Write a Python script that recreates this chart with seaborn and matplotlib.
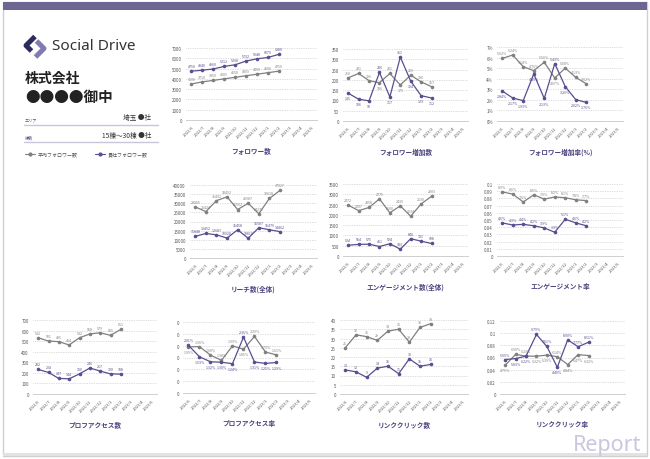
import numpy as np
import pandas as pd
import seaborn as sns
import matplotlib.pyplot as plt
from matplotlib.patches import Rectangle

months = ['2022/6', '2022/7', '2022/8', '2022/9', '2022/10', '2022/11',
          '2022/12', '2023/1', '2023/2', '2023/3', '2023/4', '2023/5']

follower_avg = [3500, 3710, 3850, 4003, 4150, 4303, 4450, 4600, 4750]
follower_own = [4750, 4840, 4960, 5212, 5368, 5732, 5948, 6079, 6380]
inc_avg = [210, 231, 196, 186, 231, 175, 223, 190, 167]
inc_own = [135, 106, 98, 236, 117, 311, 194, 123, 112]
rate_avg = [0.0592, 0.0624, 0.0514, 0.0476, 0.0556, 0.0407, 0.0500, 0.0413, 0.0352]
rate_own = [0.0284, 0.0217, 0.0193, 0.0445, 0.0213, 0.0543, 0.0326, 0.0202, 0.0176]
reach_avg = [28005, 25424, 31431, 33492, 26562, 29987, 24277, 32618, 37027]
reach_own = [11848, 13452, 12687, 10920, 15458, 10810, 16587, 15479, 14462]
eng_avg = [2472, 2207, 2358, 2775, 2100, 2439, 1934, 2530, 2903]
eng_own = [524, 564, 575, 461, 594, 333, 840, 721, 608]
engrate_avg = [0.089, 0.086, 0.075, 0.085, 0.079, 0.082, 0.081, 0.078, 0.077]
engrate_own = [0.046, 0.043, 0.044, 0.042, 0.039, 0.033, 0.051, 0.046, 0.042]
prof_avg = [532, 501, 495, 464, 532, 568, 579, 555, 611]
prof_own = [232, 204, 147, 144, 190, 246, 217, 190, 188]
profrate_avg = [0.0195, 0.0196, 0.0160, 0.0138, 0.0199, 0.0185, 0.0239, 0.0173, 0.0161]
profrate_own = [0.0201, 0.0153, 0.0132, 0.0130, 0.0124, 0.0236, 0.0131, 0.0125, 0.0129]
click_avg = [25, 32, 31, 29, 34, 35, 28, 36, 38]
click_own = [13, 12, 9, 14, 15, 11, 19, 15, 16]
clickrate_avg = [0.0475, 0.0650, 0.0623, 0.0622, 0.0639, 0.0614, 0.0484, 0.0647, 0.0632]
clickrate_own = [0.0565, 0.0583, 0.0622, 0.0979, 0.0781, 0.0440, 0.0890, 0.0777, 0.0851]

GRAY = '#808080'
PURPLE = '#574f8f'
TITLE = '#4b437e'

sns.set_theme(style='white')
plt.rcParams['font.family'] = ['Noto Sans CJK JP', 'DejaVu Sans']

W, H = 650, 460
fig = plt.figure(figsize=(6.5, 4.6), dpi=100)

# background layer in pixel coordinates
bg = fig.add_axes([0, 0, 1, 1])
bg.set_xlim(0, W)
bg.set_ylim(H, 0)
bg.axis('off')
bg.add_patch(Rectangle((3, 3), 644, 454, fill=False, ec='#cfcfcf', lw=1))
bg.add_patch(Rectangle((3, 454), 644, 3, color='#e2e2e2', lw=0))
bg.add_patch(Rectangle((3, 3), 644, 8, color='#6d6692', lw=0))
# logo
bg.plot([35, 26, 31.5], [37.5, 46.5, 52], color='#2d2b5e', lw=3.6, solid_capstyle='butt')
bg.plot([36.5, 44, 35.5], [42, 49.5, 58], color='#817bb3', lw=3.6, solid_capstyle='butt')
bg.text(52, 47, 'Social Drive', fontsize=11, color='#333333', va='center',
        family=['Noto Sans', 'DejaVu Sans'])
bg.text(25, 79, '株式会社', fontsize=10, weight='bold', va='center', color='#222222')
bg.text(25, 97, '●●●●御中', fontsize=10.5, weight='bold', va='center', color='#222222')
bg.text(25, 120, 'エリア', fontsize=3, va='center', color='#555588')
bg.text(151, 118, '埼玉 ●社', fontsize=4.8, va='center', ha='right', color='#333333')
bg.plot([24, 158], [126, 126], color='#c8c6da', lw=1)
bg.text(25, 138, '棟数', fontsize=3, va='center', color='#555588')
bg.text(151, 136, '15棟～30棟 ●社', fontsize=4.8, va='center', ha='right', color='#333333')
bg.plot([24, 158], [143, 143], color='#c8c6da', lw=1)
for x0, col, lab in [(25, GRAY, '平均フォロワー数'), (95, PURPLE, '貴社フォロワー数')]:
    bg.plot([x0, x0 + 10], [155, 155], color=col, lw=0.8)
    bg.plot([x0 + 5], [155], 'o', color=col, ms=2)
    bg.text(x0 + 13, 155, lab, fontsize=3.6, va='center', color='#555555')
bg.text(641, 451, 'Report', fontsize=15.5, weight='bold', ha='right', va='baseline',
        color='#c9c7df', family=['Noto Sans', 'DejaVu Sans'])

fmt_int = lambda v: f'{v:.0f}'
fmt_p2 = lambda v: f'{v * 100:.2f}%'
fmt_p1 = lambda v: f'{v * 100:.1f}%'

charts = [
    ('フォロワー数', follower_avg, follower_own, np.arange(0, 7001, 1000), fmt_int, fmt_int, (186, 49, 317, 121), False),
    ('フォロワー増加数', inc_avg, inc_own, np.arange(0, 351, 50), fmt_int, fmt_int, (343, 50, 468, 122), True),
    ('フォロワー増加率(%)', rate_avg, rate_own, np.arange(0, 0.0701, 0.01), lambda v: f'{v * 100:.0f}%', fmt_p2, (497, 48, 623, 122), True),
    ('リーチ数(全体)', reach_avg, reach_own, np.arange(0, 40001, 5000), fmt_int, fmt_int, (190, 186, 317, 259), False),
    ('エンゲージメント数(全体)', eng_avg, eng_own, np.arange(0, 3501, 500), fmt_int, fmt_int, (343, 185, 468, 257), False),
    ('エンゲージメント率', engrate_avg, engrate_own, np.arange(0, 0.1001, 0.01), lambda v: f'{v:.2f}'.rstrip('0').rstrip('.'), fmt_p1, (497, 185, 623, 257), False),
    ('プロフアクセス数', prof_avg, prof_own, np.arange(0, 701, 100), fmt_int, fmt_int, (33, 321, 157, 395), False),
    ('プロフアクセス率', profrate_avg, profrate_own, np.arange(0, 0.0301, 0.005), lambda v: '0', fmt_p2, (183, 323, 315, 394), True),
    ('リンククリック数', click_avg, click_own, np.arange(0, 41, 5), fmt_int, fmt_int, (340, 321, 468, 395), False),
    ('リンククリック率', clickrate_avg, clickrate_own, np.arange(0, 0.1201, 0.02), lambda v: f'{v:.2f}'.rstrip('0').rstrip('.'), fmt_p2, (500, 322, 625, 395), True),
]

for title, avg, own, yt, tfmt, lfmt, (l, t, r, b), split in charts:
    ax = fig.add_axes([l / W, 1 - b / H, (r - l) / W, (b - t) / H])
    ax.set_facecolor('none')
    n = len(avg)
    df = pd.DataFrame({
        'pos': list(range(n)) * 2,
        'value': avg + own,
        'series': ['平均'] * n + ['貴社'] * n,
    })
    sns.lineplot(data=df, x='pos', y='value', hue='series', palette={'平均': GRAY, '貴社': PURPLE},
                 marker='o', markersize=2.6, markeredgewidth=0, linewidth=0.9, ax=ax,
                 legend=False, clip_on=False)
    for i in range(n):
        for vals, other, col in [(avg, own, GRAY), (own, avg, PURPLE)]:
            up = (vals[i] >= other[i]) if split else True
            ax.annotate(lfmt(vals[i]), (i, vals[i]), xytext=(0, 2.2 if up else -2.2),
                        textcoords='offset points', ha='center', va='bottom' if up else 'top',
                        fontsize=2.6, color=col, annotation_clip=False)
    ax.set_xlim(-0.5, 11.5)
    ax.set_ylim(0, yt[-1])
    ax.set_yticks(yt)
    ax.set_yticklabels([tfmt(v) for v in yt])
    ax.set_xticks(range(12))
    ax.set_xticklabels(months, rotation=45, ha='right', rotation_mode='anchor')
    ax.tick_params(axis='y', labelsize=3.2, colors='#555555', length=0, pad=3)
    ax.tick_params(axis='x', labelsize=3.0, colors='#555555', length=1.5, width=0.4, pad=1.5)
    ax.yaxis.grid(True, color='#bdbdbd', linestyle=(0, (1, 1.5)), linewidth=0.5)
    for s in ['top', 'right', 'left']:
        ax.spines[s].set_visible(False)
    ax.spines['bottom'].set_color('#cfcfcf')
    ax.spines['bottom'].set_linewidth(0.7)
    ax.set_xlabel('')
    ax.set_ylabel('')
    fig.text((l + r) / 2 / W, 1 - (b + 30) / H, title, fontsize=4.8, weight='bold',
             color=TITLE, ha='center', va='center')

fig.savefig('out.png', dpi=100)
